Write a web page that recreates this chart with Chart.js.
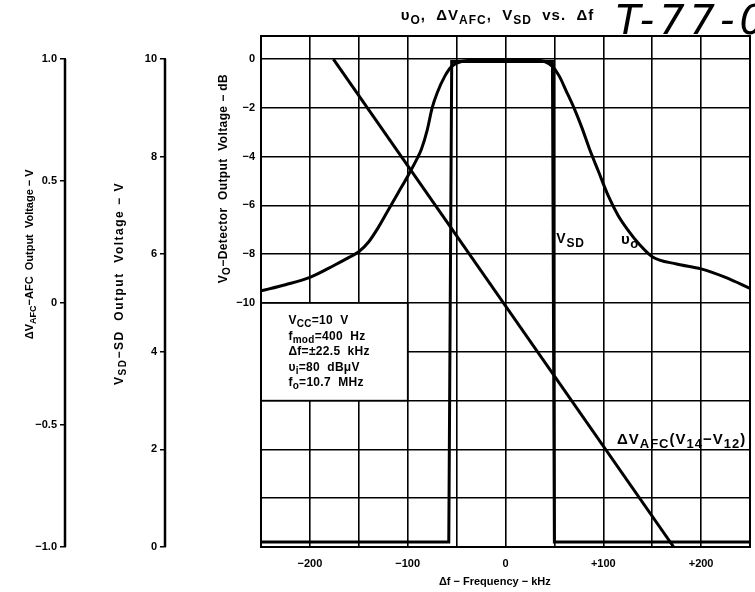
<!DOCTYPE html>
<html>
<head>
<meta charset="utf-8">
<script src="https://cdn.jsdelivr.net/npm/chart.js@4.4.1/dist/chart.umd.min.js"></script>
<style>
  html, body { margin: 0; padding: 0; background: #fff; }
  #wrap { position: relative; width: 755px; height: 592px; overflow: hidden; }
  #stamp {
    position: absolute; left: 616px; top: -3px;
    font: italic 40px "DejaVu Sans", sans-serif; letter-spacing: 5px;
    color: #000; white-space: nowrap;
  }
</style>
</head>
<body>
<div id="wrap">
  <canvas id="chart" width="755" height="592"></canvas>
  <div id="stamp">T-77-0</div>
</div>
<script>
// vo detector output (dB) vs frequency deviation (kHz)
const voFreq = [-250, -225, -200, -175, -160, -150, -140, -130, -120, -110, -100, -90, -86, -80, -75, -70, -62, -55, -45, -30, 0, 30, 40, 48, 55, 62, 70, 78, 86, 95, 105, 115, 125, 137, 150, 175, 200, 225, 250];
const voDb = [-9.5, -9.25, -8.95, -8.45, -8.13, -7.9, -7.5, -6.9, -6.2, -5.5, -4.8, -4.05, -3.7, -2.9, -2.0, -1.4, -0.7, -0.3, -0.1, -0.05, -0.05, -0.05, -0.1, -0.3, -0.7, -1.3, -2.0, -2.8, -3.7, -4.6, -5.6, -6.4, -7.0, -7.6, -8.1, -8.4, -8.6, -8.95, -9.4];

// SD output (V)
const sdFreq = [-250, -58, -55, 48, 50, 250];
const sdVolt = [0.1, 0.1, 9.95, 9.95, 0.1, 0.1];

// AFC output (V)
const afcFreq = [-176, 172];
const afcVolt = [1.0, -1.0];

// tick values
const freqTicks = [-250, -200, -150, -100, -50, 0, 50, 100, 150, 200, 250];
const dbTicks = [0, -2, -4, -6, -8, -10, -12, -14, -16, -18, -20];
const sdTicks = [0, 2, 4, 6, 8, 10];
const afcTicks = [-1, -0.5, 0, 0.5, 1];

const FONT = '"Liberation Sans", Arial, sans-serif';
const toXY = (xs, ys) => xs.map((x, i) => ({ x, y: ys[i] }));
const minus = v => (v < 0 ? '\u2212' + (-v) : String(v));

// text with subscripts, parts = [[text, isSub], ...]
function drawParts(ctx, parts, x, y, size, align, spacing = 0, subScale = 0.8) {
  const setFont = sub => { ctx.font = `bold ${sub ? Math.round(size * subScale) : size}px ${FONT}`; };
  ctx.letterSpacing = spacing + 'px';
  let w = 0;
  parts.forEach(([t, sub]) => { setFont(sub); w += ctx.measureText(t).width; });
  let cx = align === 'center' ? x - w / 2 : x;
  ctx.textAlign = 'left';
  ctx.textBaseline = 'middle';
  ctx.fillStyle = '#000';
  parts.forEach(([t, sub]) => {
    setFont(sub);
    ctx.fillText(t, cx, y + (sub ? size * 0.3 : 0));
    cx += ctx.measureText(t).width;
  });
  ctx.letterSpacing = '0px';
}

function drawRotated(ctx, parts, x, y, size, spacing) {
  ctx.save();
  ctx.translate(x, y);
  ctx.rotate(-Math.PI / 2);
  drawParts(ctx, parts, 0, 0, size, 'center', spacing);
  ctx.restore();
}

const decor = {
  id: 'decor',
  beforeDatasetsDraw(chart) {
    const { ctx, scales: { x, yDb } } = chart;
    // condition box
    const l = x.getPixelForValue(-250), r = x.getPixelForValue(-100);
    const t = yDb.getPixelForValue(-10), b = yDb.getPixelForValue(-14);
    ctx.save();
    ctx.fillStyle = '#fff';
    ctx.fillRect(l, t, r - l, b - t);
    ctx.strokeStyle = '#000';
    ctx.lineWidth = 1.6;
    ctx.strokeRect(l, t, r - l, b - t);
    ctx.restore();
  },
  afterDraw(chart) {
    const { ctx, chartArea: ca, scales: { x, yDb, ySd, yAfc } } = chart;
    ctx.save();
    ctx.strokeStyle = '#000';
    ctx.lineWidth = 2;
    ctx.strokeRect(ca.left, ca.top, ca.right - ca.left, ca.bottom - ca.top);

    // the two extra voltage axes only span their tick range
    ctx.lineWidth = 2.5;
    [[ySd, 0, 10], [yAfc, -1, 1]].forEach(([s, lo, hi]) => {
      ctx.beginPath();
      ctx.moveTo(s.right - 1, s.getPixelForValue(hi));
      ctx.lineTo(s.right - 1, s.getPixelForValue(lo));
      ctx.stroke();
    });

    // chart title
    drawParts(ctx, [['\u03c5', 0], ['O', 1], [',  \u0394V', 0], ['AFC', 1], [',  V', 0], ['SD', 1], ['  vs.  \u0394f', 0]],
      (ca.left + ca.right) / 2 - 8, ca.top - 20, 15, 'center', 1);

    // axis titles
    drawRotated(ctx, [['\u0394V', 0], ['AFC', 1], ['\u2212AFC  Output  Voltage \u2212 V', 0]],
      yAfc.left + 30, yAfc.getPixelForValue(0.2), 11, 0);
    drawRotated(ctx, [['V', 0], ['SD', 1], ['\u2212SD  Output  Voltage \u2212 V', 0]],
      ySd.left + 54, ySd.getPixelForValue(5.4), 12, 1.5);
    drawRotated(ctx, [['V', 0], ['O', 1], ['\u2212Detector  Output  Voltage \u2212 dB', 0]],
      yDb.left + 58, yDb.getPixelForValue(-4.9), 12, 0.4);

    // conditions
    const cond = [
      [['V', 0], ['CC', 1], ['=10  V', 0]],
      [['f', 0], ['mod', 1], ['=400  Hz', 0]],
      [['\u0394f=\u00b122.5  kHz', 0]],
      [['\u03c5', 0], ['i', 1], ['=80  dB\u03bcV', 0]],
      [['f', 0], ['o', 1], ['=10.7  MHz', 0]]
    ];
    const cx = x.getPixelForValue(-222);
    const cy = yDb.getPixelForValue(-10) + 18;
    cond.forEach((p, i) => drawParts(ctx, p, cx, cy + i * 15.4, 12, 'left', 0.3));

    // curve labels
    drawParts(ctx, [['V', 0], ['SD', 1]], x.getPixelForValue(52), yDb.getPixelForValue(-7.4), 14, 'left', 0.8, 0.85);
    drawParts(ctx, [['\u03c5', 0], ['o', 1]], x.getPixelForValue(118), yDb.getPixelForValue(-7.4), 15, 'left', 0.5, 0.85);
    drawParts(ctx, [['\u0394V', 0], ['AFC', 1], ['(V', 0], ['14', 1], ['\u2212V', 0], ['12', 1], [')', 0]],
      x.getPixelForValue(114), yDb.getPixelForValue(-15.6), 15, 'left', 1, 0.85);
    ctx.restore();
  }
};

const tickFont = { family: FONT, size: 11, weight: 'bold' };
const sideAxis = (weight, min, max, ticks, width, fmt) => ({
  type: 'linear',
  position: 'left',
  weight,
  min,
  max,
  afterBuildTicks: s => { s.ticks = ticks.map(v => ({ value: v })); },
  afterFit: s => { s.width = width; },
  border: { display: false },
  grid: { drawOnChartArea: false, drawTicks: true, tickLength: 6, color: '#000', lineWidth: 1.5 },
  ticks: { color: '#000', font: tickFont, padding: 3, callback: fmt }
});

new Chart(document.getElementById('chart'), {
  type: 'line',
  data: {
    datasets: [
      {
        label: 'vo',
        data: toXY(voFreq, voDb),
        yAxisID: 'yDb',
        borderColor: '#000',
        borderWidth: 3,
        pointRadius: 0,
        cubicInterpolationMode: 'monotone'
      },
      {
        label: 'VSD',
        data: toXY(sdFreq, sdVolt),
        yAxisID: 'ySd',
        borderColor: '#000',
        borderWidth: 3,
        pointRadius: 0,
        tension: 0
      },
      {
        label: 'dVAFC',
        data: toXY(afcFreq, afcVolt),
        yAxisID: 'yAfc',
        borderColor: '#000',
        borderWidth: 3,
        pointRadius: 0,
        tension: 0
      }
    ]
  },
  options: {
    responsive: false,
    animation: false,
    layout: { padding: { left: 0, right: 5, top: 36, bottom: 0 } },
    plugins: { legend: { display: false }, tooltip: { enabled: false } },
    scales: {
      x: {
        type: 'linear',
        min: -250,
        max: 250,
        afterBuildTicks: s => { s.ticks = freqTicks.map(v => ({ value: v })); },
        // fixed height, and no extra right padding from the tick padding
        afterFit: s => { s.height = 45; s.paddingRight = 0; },
        grid: { color: '#000', lineWidth: 1.6, drawTicks: false },
        border: { display: false },
        ticks: {
          color: '#000', font: tickFont, padding: 10, autoSkip: false, maxRotation: 0,
          callback: v => (v % 100 === 0 && Math.abs(v) < 250 ? (v > 0 ? '+' + v : minus(v)) : '')
        },
        title: {
          display: true,
          text: '\u0394f \u2212 Frequency \u2212 kHz       ',
          color: '#000',
          font: { family: FONT, size: 11, weight: 'bold' },
          padding: { top: 4, bottom: 3 }
        }
      },
      yDb: {
        type: 'linear',
        position: 'left',
        weight: 0,
        min: -20,
        max: 0.945,
        afterBuildTicks: s => { s.ticks = dbTicks.map(v => ({ value: v })); },
        afterFit: s => { s.width = 95; },
        grid: { color: '#000', lineWidth: 1.5, drawTicks: false },
        border: { display: false },
        ticks: { color: '#000', font: tickFont, padding: 6, callback: v => (v >= -10 ? minus(v) : '') }
      },
      ySd: sideAxis(1, 0, 10.472, sdTicks, 100, v => String(v)),
      yAfc: sideAxis(2, -1, 1.0945, afcTicks, 66,
        v => (Math.abs(v) === 1 ? minus(v) + '.0' : minus(v)))
    }
  },
  plugins: [decor]
});
</script>
</body>
</html>
